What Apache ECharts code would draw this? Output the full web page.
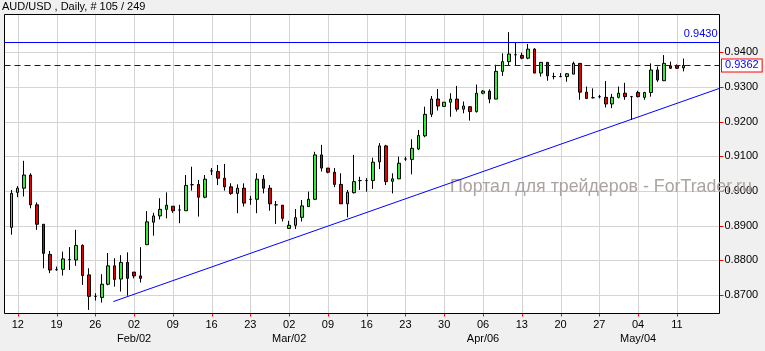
<!DOCTYPE html>
<html>
<head>
<meta charset="utf-8">
<script src="https://cdn.jsdelivr.net/npm/echarts@6/dist/echarts.min.js"></script>
<style>
  html, body { margin: 0; padding: 0; background: #f0f0f0; }
  #chart { width: 765px; height: 351px; }
</style>
</head>
<body>
<div id="chart"></div>
<script>
// AUD/USD daily bars, 10 Jan .. 12 May (Sunday bars included)
const opens = [
  0.8895, 0.8996, 0.9008, 0.9046, 0.8960, 0.8904, 0.8817, 0.8773, 0.8774, 0.8802,
  0.8801, 0.8843, 0.8758, 0.8696, 0.8693, 0.8731, 0.8784, 0.8746, 0.8794, 0.8766,
  0.8755, 0.8845, 0.8910, 0.8928, 0.8947, 0.8956, 0.8945, 0.8943, 0.9018, 0.9019,
  0.8982, 0.9058, 0.9056, 0.9037, 0.9012, 0.8993, 0.9008, 0.8976, 0.8976, 0.9034,
  0.9008, 0.8960, 0.8959, 0.8892, 0.8901, 0.8924, 0.8955, 0.8976, 0.9104, 0.9066,
  0.9054, 0.9019, 0.8963, 0.8995, 0.9030, 0.9030, 0.9030, 0.9084, 0.9130, 0.9028,
  0.9035, 0.9092, 0.9091, 0.9121, 0.9159, 0.9221, 0.9265, 0.9244, 0.9256, 0.9265,
  0.9236, 0.9243, 0.9229, 0.9282, 0.9288, 0.9265, 0.9345, 0.9373, 0.9393, 0.9391,
  0.9383, 0.9409, 0.9340, 0.9371, 0.9330, 0.9330, 0.9330, 0.9337, 0.9368, 0.9285,
  0.9269, 0.9272, 0.9270, 0.9251, 0.9270, 0.9282, 0.9272, 0.9284, 0.9270, 0.9284,
  0.9349, 0.9318, 0.9361, 0.9361, 0.9355
];
const highs = [
  0.9003, 0.9014, 0.9087, 0.9051, 0.8967, 0.8904, 0.8827, 0.8782, 0.8825, 0.8838,
  0.8888, 0.8846, 0.8777, 0.8705, 0.8760, 0.8821, 0.8806, 0.8815, 0.8823, 0.8766,
  0.8838, 0.8942, 0.8937, 0.8979, 0.8996, 0.8956, 0.8960, 0.9046, 0.9070, 0.9032,
  0.9046, 0.9066, 0.9075, 0.9078, 0.9022, 0.9019, 0.9022, 0.8986, 0.9051, 0.9046,
  0.9017, 0.8971, 0.8959, 0.8914, 0.8948, 0.8974, 0.8998, 0.9113, 0.9133, 0.9066,
  0.9066, 0.9051, 0.9003, 0.9104, 0.9041, 0.9037, 0.9096, 0.9138, 0.9133, 0.9051,
  0.9099, 0.9099, 0.9149, 0.9176, 0.9243, 0.9274, 0.9294, 0.9256, 0.9282, 0.9303,
  0.9258, 0.9245, 0.9307, 0.9291, 0.9293, 0.9364, 0.9397, 0.9458, 0.9428, 0.9399,
  0.9424, 0.9412, 0.9371, 0.9371, 0.9341, 0.9340, 0.9340, 0.9373, 0.9368, 0.9301,
  0.9296, 0.9277, 0.9317, 0.9280, 0.9301, 0.9312, 0.9274, 0.9289, 0.9286, 0.9368,
  0.9359, 0.9392, 0.9373, 0.9365, 0.9382
];
const lows = [
  0.8874, 0.8982, 0.8984, 0.8950, 0.8888, 0.8777, 0.8763, 0.8770, 0.8756, 0.8772,
  0.8784, 0.8729, 0.8657, 0.8684, 0.8678, 0.8728, 0.8724, 0.8710, 0.8698, 0.8748,
  0.8736, 0.8845, 0.8871, 0.8918, 0.8921, 0.8937, 0.8907, 0.8943, 0.9001, 0.8926,
  0.8979, 0.9046, 0.9017, 0.9001, 0.8989, 0.8936, 0.8955, 0.8960, 0.8936, 0.8993,
  0.8943, 0.8905, 0.8912, 0.8892, 0.8890, 0.8912, 0.8955, 0.8974, 0.9056, 0.9051,
  0.9011, 0.8963, 0.8924, 0.8993, 0.9003, 0.8998, 0.9006, 0.9063, 0.9017, 0.8993,
  0.9035, 0.9087, 0.9048, 0.9118, 0.9155, 0.9213, 0.9232, 0.9244, 0.9214, 0.9229,
  0.9224, 0.9203, 0.9226, 0.9279, 0.9253, 0.9265, 0.9332, 0.9363, 0.9363, 0.9380,
  0.9380, 0.9340, 0.9330, 0.9318, 0.9322, 0.9328, 0.9315, 0.9337, 0.9263, 0.9265,
  0.9267, 0.9267, 0.9241, 0.9239, 0.9267, 0.9263, 0.9205, 0.9270, 0.9263, 0.9272,
  0.9315, 0.9318, 0.9352, 0.9352, 0.9345
];
const closes = [
  0.8993, 0.9008, 0.9046, 0.8960, 0.8904, 0.8820, 0.8772, 0.8773, 0.8804, 0.8802,
  0.8843, 0.8756, 0.8696, 0.8696, 0.8731, 0.8784, 0.8745, 0.8794, 0.8748, 0.8755,
  0.8748, 0.8911, 0.8928, 0.8947, 0.8959, 0.8943, 0.8945, 0.9016, 0.9018, 0.8982,
  0.9034, 0.9058, 0.9037, 0.9012, 0.8993, 0.9008, 0.8965, 0.8976, 0.9034, 0.9008,
  0.8963, 0.8960, 0.8921, 0.8901, 0.8923, 0.8957, 0.8976, 0.9104, 0.9066, 0.9054,
  0.9019, 0.8963, 0.8996, 0.9027, 0.9030, 0.9030, 0.9083, 0.9130, 0.9027, 0.9035,
  0.9080, 0.9092, 0.9123, 0.9160, 0.9221, 0.9265, 0.9245, 0.9256, 0.9265, 0.9236,
  0.9245, 0.9229, 0.9282, 0.9288, 0.9265, 0.9345, 0.9373, 0.9395, 0.9393, 0.9383,
  0.9409, 0.9340, 0.9371, 0.9332, 0.9330, 0.9330, 0.9338, 0.9368, 0.9285, 0.9267,
  0.9269, 0.9272, 0.9251, 0.9270, 0.9282, 0.9272, 0.9272, 0.9272, 0.9284, 0.9349,
  0.9320, 0.9368, 0.9354, 0.9354, 0.9362
];

// week ticks sit on the Sunday bars: bar 1, 7, 13, ...
const dayLabels = ['12', '19', '26', '02', '09', '16', '23', '02', '09', '16', '23', '30', '06', '13', '20', '27', '04', '11'];
const monthLabels = ['', '', '', 'Feb/02', '', '', '', 'Mar/02', '', '', '', '', 'Apr/06', '', '', '', 'May/04', ''];
const priceTicks = [0.87, 0.88, 0.89, 0.90, 0.91, 0.92, 0.93, 0.94];

const resistance = 0.9430;
const bid = 0.9362;
// trend line anchors [bar index, price]
const trendLine = [[15.79, 0.8681], [109.6, 0.9296]];

const sundayBars = dayLabels.map((d, k) => 1 + k * 6);

const chart = echarts.init(document.getElementById('chart'));

const candles = opens.map((o, i) => [i, o, closes[i], lows[i], highs[i]]);

// plot background, grid, frame and red tick marks as one custom item
// (splitLine / axisTick with customValues did not land where expected)
function renderFrame(params, api) {
  const cs = params.coordSys;
  const left = cs.x, top = cs.y, right = cs.x + cs.width, bottom = cs.y + cs.height;
  const kids = [{
    type: 'rect',
    shape: { x: left, y: top, width: cs.width, height: cs.height },
    style: { fill: '#fff' },
  }];
  const gridPts = [];
  const tickPts = [];
  sundayBars.forEach((b) => {
    const x = Math.round(api.coord([b, priceTicks[0]])[0]) + 0.5;
    kids.push({ type: 'polyline', shape: { points: [[x, top], [x, bottom]] }, style: { stroke: '#d4d4d4', lineWidth: 1, fill: null } });
    kids.push({ type: 'polyline', shape: { points: [[x, bottom], [x, bottom + 3]] }, style: { stroke: '#ff0000', lineWidth: 1, fill: null } });
  });
  priceTicks.forEach((p) => {
    const y = Math.round(api.coord([0, p])[1]) + 0.5;
    kids.push({ type: 'polyline', shape: { points: [[left, y], [right, y]] }, style: { stroke: '#d4d4d4', lineWidth: 1, fill: null } });
    kids.push({ type: 'polyline', shape: { points: [[right, y], [right + 4, y]] }, style: { stroke: '#ff0000', lineWidth: 1, fill: null } });
  });
  kids.push({
    type: 'rect',
    shape: { x: left, y: top, width: cs.width, height: cs.height },
    style: { fill: null, stroke: '#000', lineWidth: 1 },
  });
  return { type: 'group', children: kids, silent: true };
}

chart.setOption({
  backgroundColor: '#f0f0f0',
  animation: false,
  textStyle: { fontFamily: 'Liberation Sans, Arial, sans-serif' },
  title: {
    text: 'AUD/USD , Daily, # 105 / 249',
    left: 2,
    top: 1,
    padding: 0,
    textStyle: { color: '#000', fontSize: 11, fontWeight: 'normal' },
  },
  grid: {
    left: 4.5,
    top: 14.5,
    right: 45.5,
    bottom: 37.5,
    show: false,
  },
  xAxis: {
    type: 'value',
    min: -1.05,
    max: 109.6,
    axisLine: { show: false, onZero: false },
    axisTick: { show: false },
    axisLabel: {
      customValues: sundayBars,
      margin: 4,
      formatter: (v) => {
        const k = sundayBars.indexOf(Math.round(v));
        if (k < 0) return '';
        return monthLabels[k] ? '{d|' + dayLabels[k] + '}\n{m|' + monthLabels[k] + '}' : '{d|' + dayLabels[k] + '}';
      },
      rich: {
        d: { fontSize: 11, color: '#000', lineHeight: 14 },
        m: { fontSize: 11, color: '#000', lineHeight: 14 },
      },
    },
    splitLine: { show: false },
  },
  yAxis: {
    type: 'value',
    position: 'right',
    min: 0.86466,
    max: 0.9509,
    axisLine: { show: false, onZero: false },
    axisTick: { show: false },
    axisLabel: {
      customValues: priceTicks,
      margin: 5,
      color: '#000',
      fontSize: 11,
      formatter: (v) => v.toFixed(4),
    },
    splitLine: { show: false },
  },
  graphic: [
    {
      type: 'text',
      left: 450,
      top: 178,
      z: 1,
      silent: true,
      style: {
        text: 'Портал для трейдеров - ForTrader.ru',
        fill: '#ada2a2',
        font: '17.8px "Liberation Sans", Arial, sans-serif',
      },
    },
  ],
  series: [
    {
      type: 'custom',
      renderItem: renderFrame,
      data: [[0, priceTicks[0]]],
      silent: true,
      clip: false,
      z: -1,
    },
    {
      type: 'line',
      data: trendLine,
      symbol: 'none',
      silent: true,
      lineStyle: { color: '#0000ff', width: 1 },
      z: 2,
    },
    {
      type: 'candlestick',
      encode: { x: 0, y: [1, 2, 3, 4] },
      barWidth: 3,
      z: 3,
      itemStyle: {
        color: '#33ee33',
        color0: '#e80000',
        borderColor: '#000',
        borderColor0: '#000',
        borderWidth: 1,
      },
      data: candles,
      markLine: {
        silent: true,
        symbol: ['none', 'none'],
        animation: false,
        precision: 4,
        data: [
          {
            yAxis: resistance,
            lineStyle: { color: '#0000ff', type: 'solid', width: 1 },
            label: {
              position: 'insideEndTop',
              distance: 2,
              color: '#0000ff',
              fontSize: 11,
              formatter: resistance.toFixed(4),
            },
          },
          {
            yAxis: bid,
            lineStyle: { color: '#0000ff', type: [6, 4], width: 1 },
            label: {
              position: 'end',
              distance: 2.5,
              color: '#0000ff',
              fontSize: 11,
              backgroundColor: '#fff',
              borderColor: '#ff0000',
              borderWidth: 1,
              padding: [1, 3, 0, 3],
              lineHeight: 11,
              formatter: bid.toFixed(4),
            },
          },
        ],
      },
    },
  ],
});
</script>
</body>
</html>
